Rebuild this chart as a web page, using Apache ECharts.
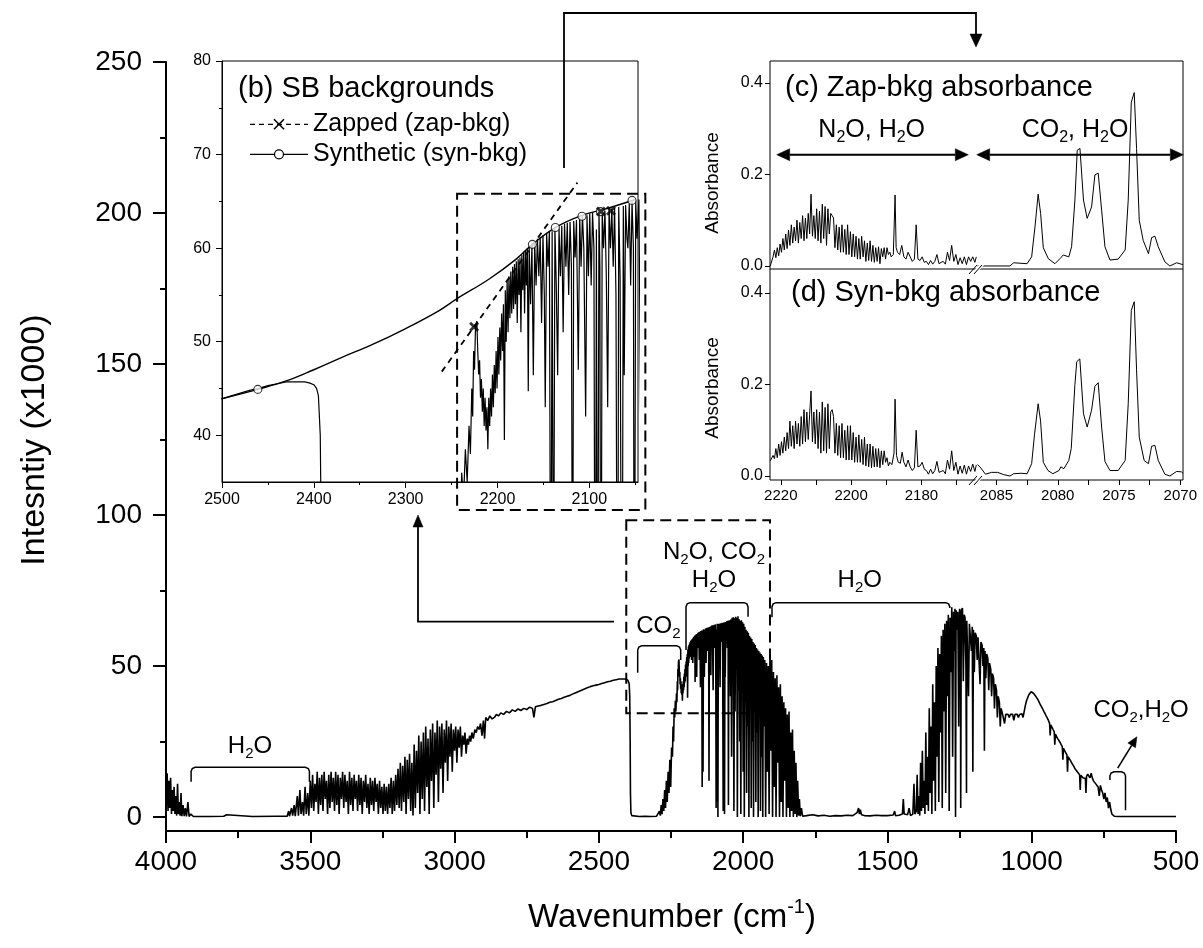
<!DOCTYPE html>
<html><head><meta charset="utf-8">
<script src="https://cdn.jsdelivr.net/npm/echarts@6/dist/echarts.min.js"></script>
<style>html,body{margin:0;padding:0;background:#fff}#c{width:1203px;height:948px}</style>
</head><body><div id="c"></div>
<script>
// ---------- DATA ----------
// Main single-beam spectrum, [wavenumber cm-1, intensity x1000]
const specA = [[4000,13],[3998,4],[3996,14.5],[3993,2],[3990,12],[3987,3],[3984,13],[3981,1],[3978,9],[3975,2],[3972,10],[3969,1],[3966,7],[3963,0.5],[3960,11],[3957,1],[3954,5],[3951,0.5],[3948,8],[3945,0.3],[3941,4],[3937,0.3],[3933,3],[3929,0.2],[3924,5],[3920,0.2],[3914,1],[3905,0.2],[3850,0.2],[3800,0.3],[3790,0.8],[3785,0.3],[3700,0.2],[3620,0.3],[3580,0.3],[3575,2],[3572,0.3],[3565,3],[3561,0.5],[3556,4],[3552,0.3],[3545,7],[3541,0.5],[3536,9],[3532,1],[3527,5],[3523,0.5],[3518,10],[3514,1],[3509,8],[3505,0.5],[3500,12]];
const specB = [[3496,3],[3492,14],[3488,2],[3484,11],[3480,5],[3476,15],[3472,1],[3468,13],[3464,4],[3460,14],[3456,2],[3452,15],[3448,6],[3444,12],[3440,1],[3436,14],[3432,3],[3428,15],[3424,5],[3420,13],[3416,2],[3412,15],[3408,4],[3404,14],[3400,1],[3396,13],[3392,6],[3388,15],[3384,3],[3380,14],[3376,5],[3372,12],[3368,1],[3364,15],[3360,4],[3356,13],[3352,2],[3348,14],[3344,6],[3340,12],[3336,2],[3332,14],[3328,4],[3324,13],[3320,1],[3316,12],[3312,5],[3308,14],[3304,3],[3300,11],[3296,1],[3292,13],[3288,4],[3284,12],[3280,2],[3276,13],[3272,5],[3268,11],[3264,1],[3260,12],[3256,3],[3252,10],[3248,1],[3244,11],[3240,2],[3236,10],[3232,1],[3228,11],[3224,3],[3220,13],[3216,1],[3212,12],[3208,2],[3204,14],[3200,4]];
const specC = [[3196,16],[3192,3],[3188,18],[3184,2],[3180,17],[3176,5],[3172,20],[3168,1],[3164,19],[3160,6],[3156,21],[3152,2],[3148,18],[3144,0.5],[3140,24],[3136,3],[3132,22],[3128,8],[3124,27],[3120,1],[3116,25],[3112,6],[3108,28],[3104,2],[3100,30],[3096,10],[3092,26],[3088,1],[3084,29],[3080,12],[3076,31],[3072,3],[3068,28],[3064,14],[3060,32],[3056,5],[3052,30],[3048,16],[3044,31],[3040,8],[3036,29],[3032,18],[3028,32],[3024,12],[3020,30],[3016,20],[3012,31],[3008,15],[3004,29],[3000,22],[2996,30],[2992,18],[2988,29],[2984,23],[2980,30],[2976,20],[2972,27],[2968,24],[2964,28],[2960,21],[2956,26],[2952,24],[2948,27],[2944,25],[2940,28],[2935,26],[2930,29],[2925,28],[2920,30],[2915,29],[2910,31],[2905,27],[2900,32],[2896,26],[2892,33],[2885,32],[2878,33.5],[2870,32.5],[2862,33],[2855,34],[2848,33.5],[2840,34.5],[2830,34],[2820,35],[2810,34.5],[2800,35.5],[2790,35],[2780,35.8],[2770,35.3],[2760,36],[2750,35.6],[2740,36.4],[2730,36],[2725,33],[2720,36.5],[2710,36.8],[2700,37],[2690,37.3],[2680,37.6],[2670,38],[2660,38.2],[2650,38.6],[2640,39],[2630,39.3],[2620,39.7],[2610,40],[2600,40.3],[2590,40.8],[2580,41.2],[2570,41.6],[2560,42],[2550,42.4],[2540,42.8],[2530,43.2],[2520,43.5],[2510,43.7],[2500,43.9],[2490,44.2],[2480,44.5],[2470,44.8],[2460,45.0],[2450,45.3],[2440,45.5],[2430,45.7],[2420,45.7],[2410,45.7],[2405,45.6],[2400,45.4],[2397,45.0],[2395,44.2],[2393,40],[2391.5,25],[2390.5,8],[2389,1.5],[2386,0.5],[2380,0.3],[2360,0.2],[2340,0.3],[2320,0.2],[2300,0.3],[2294,0.8]];
const specD = [[2290,2],[2287,0.5],[2284,4],[2281,1],[2278,6],[2275,2],[2272,9],[2269,3],[2266,12],[2263,5],[2260,15],[2257,8],[2254,19],[2251,10],[2248,23],[2245,20],[2243,30],[2241,25],[2239,36],[2237,33],[2235,38.5],[2233,35],[2231,41],[2229.5,38],[2228,45],[2227,42],[2226,49],[2225,47],[2224,51.5],[2222.5,52.2],[2221.5,49],[2220.5,46.5],[2219.5,48],[2218.5,44],[2217.5,46],[2216.5,42.5],[2215.5,45],[2214.5,41],[2213.5,44],[2212.5,40.5],[2211.5,43],[2210.5,38.5],[2209.5,44],[2208.5,41],[2207.5,45],[2206.5,42],[2205.5,46.5],[2204.5,43],[2203.5,47.5],[2202.5,44.5],[2201.5,49],[2200.5,45],[2199.5,50.5],[2198.5,46.5],[2197.5,51.5],[2196.5,48],[2195.5,53],[2194.5,49],[2193.5,54],[2192.5,39.5],[2191.5,55.5],[2190.5,50],[2189.5,56.5],[2188.5,51],[2187.5,57],[2186.5,52.5],[2185.5,57.5],[2184.5,53],[2183.5,58],[2182.5,53.5],[2181.5,58.3],[2180.5,54],[2179.5,58.6],[2178.5,52],[2177.5,58.8],[2176.5,55],[2175.5,59],[2174.5,51],[2173.5,59.3],[2172.5,55.5],[2171.5,59.6],[2170.5,53],[2169.5,59.8],[2168.5,56],[2167.5,60],[2166.5,44.7],[2165.5,60.2],[2164,54],[2162.5,60.5],[2161,46.4],[2159.5,60.6],[2158,56],[2156.5,61],[2155,57],[2153.5,61.2],[2152,52],[2150.5,61.4],[2149,55],[2148,43],[2146.5,61.6],[2145,58],[2143.5,61.8],[2142,10],[2140.5,61.8],[2139,15],[2137.5,62.2],[2136,56],[2134.5,46.4],[2133,62.1],[2131.5,57],[2130,62.4],[2128.5,51],[2127,62.6],[2125.5,58],[2124,62.7],[2122.5,55],[2121,62.8],[2119.5,58],[2118.3,12],[2117,62.9],[2115.5,59],[2114,63],[2112,47],[2110.5,63.3],[2109,58],[2107.5,63.5],[2106,60],[2104,42],[2102.5,63.5],[2101,57],[2099.5,63.7],[2098,56],[2096.5,63.8],[2095,60],[2093.6,3],[2092.3,62],[2091,5],[2089.5,64],[2088.5,58],[2087.4,0],[2086,63.9],[2084.5,60],[2083,64],[2081.5,57],[2080,43],[2078.5,64.2],[2077,60],[2075.5,64.2],[2074,58],[2072.5,64.3],[2071,55],[2069.2,2],[2068,64.4],[2066.5,57],[2064.5,1],[2063,64.5],[2062,46.4],[2060.5,64.6],[2059,61],[2058,60],[2056.5,64.8],[2055,56],[2053.5,65],[2052,60],[2051,4],[2049.5,65.1],[2048,61],[2046,65.2]];
const specE = [[2044,40],[2042,65.5],[2040,20],[2038,66],[2036,45],[2034,66.2],[2032,2],[2030,65.8],[2028,35],[2026,66.3],[2024,50],[2022,66],[2020,0],[2018,66.5],[2016,42],[2014,65.5],[2012,25],[2010,65],[2008,1],[2006,65.2],[2004,48],[2002,64.5],[2000,15],[1998,64],[1996,0],[1994,63],[1992,38],[1990,62],[1988,8],[1986,61.5],[1984,30],[1982,61],[1980,0],[1978,60],[1976,44],[1974,59.5],[1972,3],[1970,59],[1968,25],[1966,58],[1964,0],[1962,57.5],[1960,35],[1958,57],[1956,5],[1954,56],[1952,28],[1950,55.5],[1948,0],[1946,55],[1944,40],[1942,54.5],[1940,2],[1938,54],[1936,20],[1934,53.5],[1932,0],[1930,53],[1928,30],[1925,52],[1922,0],[1919,51],[1916,15],[1913,50],[1910,1],[1907,54],[1904,22],[1901,52],[1898,0],[1895,48],[1892,10],[1889,46],[1886,0],[1883,47],[1880,18],[1877,43],[1874,0],[1871,44],[1868,5],[1865,40],[1862,0],[1859,38],[1856,12],[1853,36],[1850,0],[1847,34],[1844,3],[1841,35],[1838,0],[1835,28],[1832,2],[1829,29],[1826,0],[1823,22],[1820,1],[1817,18],[1814,0],[1811,12],[1808,0.5],[1805,6],[1802,0.3],[1798,3],[1794,0.3],[1790,0.5]];
const specF = [[1780,0.5],[1760,0.8],[1740,0.4],[1720,0.6],[1700,0.3],[1680,0.5],[1660,0.4],[1640,0.6],[1620,0.5],[1605,1.5],[1600,3],[1597,1],[1594,2.5],[1590,0.8],[1580,0.5],[1560,0.4],[1540,0.6],[1520,0.5],[1500,0.5],[1480,0.7],[1475,2],[1472,0.5],[1460,0.6],[1448,1],[1445,6],[1442,1],[1430,0.8],[1425,3],[1420,0.5],[1412,1],[1408,11],[1405,1],[1400,2]];
const specG = [[1397,14],[1394,1],[1391,7],[1388,0.5],[1385,18],[1382,2],[1379,22],[1376,3],[1373,12],[1370,1],[1367,28],[1364,4],[1361,20],[1358,2],[1355,36],[1352,8],[1349,30],[1346,1],[1343,44],[1340,12],[1337,38],[1334,2],[1331,50],[1328,20],[1325,56],[1322,5],[1319,54],[1316,28],[1313,60],[1310,3],[1307,62],[1304,35],[1301,64],[1298,8],[1295,65],[1292,40],[1289,67],[1286,2],[1283,66],[1280,48],[1277,69.5],[1274,20],[1271,68],[1268,55],[1266,69],[1264,0],[1262,68.5],[1259,62],[1256,68],[1253,30],[1250,69],[1247,58],[1246,3],[1244,68.5],[1240,69.2],[1237,45],[1234,67],[1231,66],[1228,50],[1226,8],[1225,65],[1222,64.5],[1219,40],[1216,64],[1212,63.5],[1209,55],[1206,63],[1204,15],[1202,62],[1199,48],[1196,61],[1192,60],[1189,52],[1186,59.5],[1182,59],[1179,44],[1176,58],[1172,57],[1169,50],[1166,56],[1164,22],[1162,55],[1159,46],[1156,54],[1152,52.5],[1149,42],[1146,51],[1142,49],[1139,40],[1136,47.5],[1132,46],[1129,36],[1126,44],[1122,42],[1119,33],[1116,40],[1112,38],[1109,30],[1106,36],[1102,34.5],[1098,34],[1094,31],[1090,34],[1086,33.5],[1082,34],[1078,33],[1074,34],[1070,33.5],[1066,34],[1062,32],[1058,34],[1054,33.5],[1050,34],[1046,33],[1042,34],[1038,33.8],[1034,34.2],[1030,33],[1026,35],[1022,37],[1018,38.5],[1014,39.5],[1010,40.5],[1006,41],[1002,41.5],[998,41.5],[994,41],[990,40.5],[986,40],[982,39.5],[978,38.8],[974,38],[970,37.2],[966,36.5],[962,35.8],[958,35],[954,34.3],[950,33.5],[946,32.8],[942,32],[938,31],[936,27],[934,30.5],[930,29.8],[926,29],[922,28.3],[920,24],[918,27.5],[914,26.7],[910,26],[906,25.5],[902,24.8],[898,24],[894,23.3],[892,19],[890,22.8],[886,22],[882,21.3],[878,20.6],[876,15],[874,20],[870,19.5],[866,18.8],[862,18],[858,17.5],[854,16.8],[850,16],[846,15.5],[842,15],[838,14.5],[834,14],[832,9],[830,13.8],[826,13.4],[822,13],[818,12.5],[814,12.8],[812,8],[810,13.5],[806,14.2],[802,14],[798,13],[794,14.5],[790,13],[786,12],[782,12.5],[778,11],[774,11.5],[770,10],[766,7],[762,10.5],[758,9],[754,8],[750,6],[746,8],[742,5],[738,6.5],[734,3],[730,5],[726,2.5],[722,1],[718,0.5],[714,0.3],[700,0.2],[600,0.2],[500,0.2]];
const spectrum = [].concat(specA, specB, specC, specD, specE, specF, specG);

// Inset (b): backgrounds
const synBkg = [[2500,43.9],[2461,44.9],[2430,45.8],[2400,47.0],[2370,48.3],[2336,49.7],[2300,51.4],[2264,53.3],[2244,54.6],[2209,56.7],[2180,58.8],[2162,60.4],[2137,62.2],[2108,63.5],[2082,64.2],[2050,65.2]];
const synMarks = [[2461,44.9],[2162,60.4],[2137,62.2],[2108,63.4],[2088,63.9],[2053.5,65.1]];
const zapLine = [[2260.7,46.8],[2225.5,51.6],[2113,67]];
const zapMarks = [[2225.5,51.6],[2087.4,63.9],[2076.4,64.0]];

// (c) zap-bkg absorbance and (d) syn-bkg absorbance, left (N2O) and right (CO2) segments
const zapAbsL = [[2223.0,0.0],[2222.6,0.003],[2222.2,0.02],[2221.8,0.035],[2221.4,0.018],[2221.0,0.04],[2220.6,0.022],[2220.2,0.048],[2219.8,0.03],[2219.4,0.06],[2219.0,0.035],[2218.6,0.07],[2218.2,0.038],[2217.8,0.078],[2217.4,0.045],[2217.0,0.09],[2216.6,0.05],[2216.2,0.085],[2215.8,0.055],[2215.4,0.1],[2215.0,0.05],[2214.6,0.095],[2214.2,0.06],[2213.8,0.11],[2213.4,0.055],[2213.0,0.105],[2212.6,0.06],[2212.2,0.115],[2211.8,0.07],[2211.4,0.157],[2211.0,0.065],[2210.6,0.11],[2210.2,0.06],[2209.8,0.125],[2209.4,0.055],[2209.0,0.12],[2208.6,0.05],[2208.2,0.135],[2207.8,0.06],[2207.4,0.13],[2207.0,0.045],[2206.6,0.125],[2206.2,0.07],[2205.8,0.115],[2205.4,0.11],[2205.0,0.105],[2204.6,0.04],[2204.2,0.09],[2203.8,0.035],[2203.4,0.085],[2203.0,0.03],[2202.6,0.09],[2202.2,0.03],[2201.8,0.08],[2201.4,0.025],[2201.0,0.09],[2200.6,0.025],[2200.2,0.075],[2199.8,0.02],[2199.4,0.07],[2199.0,0.02],[2198.6,0.065],[2198.2,0.015],[2197.8,0.06],[2197.4,0.015],[2197.0,0.065],[2196.6,0.02],[2196.2,0.055],[2195.8,0.01],[2195.4,0.05],[2195.0,0.012],[2194.6,0.055],[2194.2,0.01],[2193.8,0.045],[2193.4,0.008],[2193.0,0.04],[2192.6,0.01],[2192.2,0.042],[2191.8,0.005],[2191.4,0.038],[2191.0,0.02],[2190.6,0.04],[2190.2,0.015],[2189.8,0.04],[2189.4,0.025],[2189.0,0.03],[2188.6,0.02],[2188.0,0.025],[2187.5,0.155],[2187.2,0.04],[2186.8,0.03],[2186.2,0.025],[2185.6,0.045],[2185.0,0.02],[2184.4,0.015],[2183.8,0.03],[2183.2,0.02],[2182.6,0.01],[2182.0,0.015],[2181.5,0.09],[2181.0,0.015],[2180.4,0.012],[2179.8,0.02],[2179.2,0.008],[2178.6,0.01],[2178.0,0.003],[2177.4,0.012],[2176.8,0.004],[2176.2,0.01],[2175.6,0.025],[2175.0,0.005],[2174.4,0.008],[2173.8,0.01],[2173.2,0.004],[2172.6,0.03],[2172.0,0.012],[2171.4,0.045],[2170.8,0.01],[2170.2,0.025],[2169.6,0.003],[2169.0,0.018],[2168.4,0.005],[2167.8,0.02],[2167.2,0.003],[2166.6,0.02],[2166.0,0.01],[2165.4,0.02],[2164.8,0.008],[2164.4,0.02]];
const zapAbsR = [[2086.55,0.0],[2083.9,0.0],[2083.6,0.007],[2082.5,0.005],[2082.13,0.02],[2081.86,0.085],[2081.6,0.157],[2081.4,0.115],[2081.18,0.04],[2080.77,0.016],[2080.23,0.005],[2079.82,0.016],[2079.55,0.024],[2079.1,0.02],[2078.87,0.042],[2078.6,0.144],[2078.41,0.253],[2078.19,0.257],[2077.9,0.144],[2077.6,0.104],[2077.24,0.129],[2076.97,0.199],[2076.7,0.203],[2076.42,0.122],[2076.15,0.042],[2075.74,0.013],[2075.07,0.015],[2074.5,0.035],[2074.25,0.144],[2074.0,0.358],[2073.76,0.379],[2073.57,0.257],[2073.35,0.1],[2073.03,0.056],[2072.6,0.027],[2072.34,0.062],[2072.07,0.065],[2071.8,0.042],[2071.26,0.009],[2070.85,0.0],[2070.3,0.007],[2069.8,0.003]];
const synAbsL = [[2223.0,0.033],[2222.6,0.034],[2222.2,0.045],[2221.8,0.038],[2221.4,0.06],[2221.0,0.04],[2220.6,0.07],[2220.2,0.045],[2219.8,0.075],[2219.4,0.05],[2219.0,0.085],[2218.6,0.055],[2218.2,0.095],[2217.8,0.06],[2217.4,0.12],[2217.0,0.065],[2216.6,0.11],[2216.2,0.06],[2215.8,0.12],[2215.4,0.07],[2215.0,0.115],[2214.6,0.065],[2214.2,0.13],[2213.8,0.07],[2213.4,0.145],[2213.0,0.075],[2212.6,0.14],[2212.2,0.08],[2211.8,0.135],[2211.4,0.186],[2211.0,0.075],[2210.6,0.14],[2210.2,0.07],[2209.8,0.145],[2209.4,0.06],[2209.0,0.14],[2208.6,0.05],[2208.2,0.162],[2207.8,0.055],[2207.4,0.15],[2207.0,0.05],[2206.6,0.158],[2206.2,0.06],[2205.8,0.14],[2205.4,0.145],[2205.0,0.13],[2204.6,0.05],[2204.2,0.115],[2203.8,0.045],[2203.4,0.11],[2203.0,0.04],[2202.6,0.115],[2202.2,0.04],[2201.8,0.1],[2201.4,0.035],[2201.0,0.11],[2200.6,0.035],[2200.2,0.11],[2199.8,0.035],[2199.4,0.095],[2199.0,0.03],[2198.6,0.085],[2198.2,0.03],[2197.8,0.09],[2197.4,0.03],[2197.0,0.08],[2196.6,0.025],[2196.2,0.085],[2195.8,0.022],[2195.4,0.07],[2195.0,0.02],[2194.6,0.07],[2194.2,0.018],[2193.8,0.065],[2193.4,0.02],[2193.0,0.06],[2192.6,0.02],[2192.2,0.06],[2191.8,0.018],[2191.4,0.055],[2191.0,0.025],[2190.6,0.055],[2190.2,0.03],[2189.8,0.04],[2189.4,0.022],[2189.0,0.03],[2188.4,0.025],[2187.8,0.05],[2187.5,0.168],[2187.1,0.045],[2186.6,0.03],[2186.0,0.028],[2185.5,0.052],[2185.0,0.03],[2184.4,0.02],[2183.8,0.035],[2183.2,0.02],[2182.6,0.012],[2182.0,0.018],[2181.5,0.1],[2181.0,0.02],[2180.4,0.022],[2179.8,0.03],[2179.2,0.015],[2178.6,0.012],[2178.0,0.004],[2177.4,0.015],[2176.8,0.005],[2176.2,0.012],[2175.6,0.032],[2175.0,0.008],[2174.4,0.01],[2173.8,0.012],[2173.2,0.005],[2172.6,0.035],[2172.0,0.015],[2171.4,0.055],[2170.8,0.012],[2170.2,0.03],[2169.6,0.004],[2169.0,0.022],[2168.4,0.006],[2167.8,0.024],[2167.2,0.004],[2166.6,0.022],[2166.0,0.01],[2165.4,0.026],[2164.8,0.01],[2164.4,0.024]];
const synAbsR = [[2086.55,0.025],[2086.35,0.02],[2085.9,0.004],[2085.4,0.008],[2084.9,0.008],[2084.4,0.003],[2083.9,0.0],[2083.6,0.005],[2083.0,0.006],[2082.5,0.005],[2082.13,0.027],[2081.9,0.09],[2081.6,0.158],[2081.4,0.12],[2081.18,0.03],[2080.8,0.012],[2080.4,0.005],[2079.9,0.012],[2079.75,0.02],[2079.5,0.016],[2079.1,0.034],[2078.9,0.06],[2078.6,0.2],[2078.45,0.25],[2078.2,0.256],[2077.9,0.136],[2077.6,0.107],[2077.24,0.144],[2076.97,0.196],[2076.7,0.204],[2076.42,0.107],[2076.15,0.032],[2075.74,0.012],[2075.07,0.012],[2074.5,0.034],[2074.25,0.158],[2074.0,0.362],[2073.76,0.381],[2073.57,0.232],[2073.35,0.085],[2072.95,0.034],[2072.6,0.027],[2072.34,0.065],[2072.07,0.067],[2071.8,0.034],[2071.26,0.004],[2070.85,0.0],[2070.3,0.01],[2069.9,0.009],[2069.78,0.006]];

// Tick values
const mainYTicks = [0,50,100,150,200,250];
const mainYMinor = [25,75,125,175,225];
const bXTicks = [2500,2400,2300,2200,2100];
const bXMinor = [2450,2350,2250,2150,2050];
const bYTicks = [40,50,60,70,80];
const bYMinor = [45,55,65,75];
const absYTicks = [0,0.2,0.4];
const leftXTicks = [2220,2200,2180];
const leftXMinor = [2210,2190,2170];
const rightXTicks = [2085,2080,2075,2070];
const rightXMinor = [2082.5,2077.5,2072.5];

// ---------- CHART ----------
const K = '#000';
const FONT = '"Liberation Sans", Arial, Helvetica, sans-serif';
const chart = echarts.init(document.getElementById('c'));
const plain = v => String(v);

function xAx(grid, min, max, o) {
  return Object.assign({gridIndex: grid, type: 'value', position: 'bottom', min: min, max: max, inverse: true,
    splitLine: {show: false},
    axisLine: {show: false, onZero: false, lineStyle: {color: K, width: 1}},
    axisTick: {show: false}, axisLabel: {show: false}}, o || {});
}
function yAx(grid, min, max, o) {
  return Object.assign({gridIndex: grid, type: 'value', position: 'left', min: min, max: max,
    splitLine: {show: false},
    axisLine: {show: false, onZero: false, lineStyle: {color: K, width: 1}},
    axisTick: {show: false}, axisLabel: {show: false}}, o || {});
}
const lbl = (size, extra) => Object.assign({show: true, color: K, fontSize: size, fontFamily: FONT, formatter: plain}, extra || {});

const option = {
  animation: false,
  backgroundColor: '#fff',
  grid: [
    {left: 166, top: 62, width: 1010, height: 769, show: false},
    {left: 222, top: 61, width: 416, height: 421, show: true, backgroundColor: '#fff', borderColor: K, borderWidth: 1},
    {left: 770, top: 61, width: 207, height: 208, show: false},
    {left: 977, top: 61, width: 206, height: 208, show: false},
    {left: 770, top: 269, width: 207, height: 211, show: false},
    {left: 977, top: 269, width: 206, height: 211, show: false}
  ],
  xAxis: [
    {gridIndex: 0, type: 'value', position: 'bottom', min: 500, max: 4000, inverse: true, interval: 500,
      splitLine: {show: false},
      axisLine: {show: true, onZero: false, lineStyle: {color: K, width: 2}},
      axisTick: {show: true, length: 12, lineStyle: {color: K, width: 2}},
      minorTick: {show: true, splitNumber: 2, length: 7, lineStyle: {color: K, width: 2}},
      axisLabel: lbl(28, {margin: 17, showMinLabel: true, showMaxLabel: true})},
    xAx(1, 2047, 2500, {axisLine: {show: true, onZero: false, lineStyle: {color: K, width: 1}},
      axisTick: {show: true, length: 6, customValues: bXTicks, lineStyle: {color: K}},
      axisLabel: lbl(16, {margin: 10, customValues: bXTicks})}),
    xAx(1, 2047, 2500, {axisTick: {show: true, length: 3, customValues: bXMinor, lineStyle: {color: K}}}),
    xAx(2, 2164.2, 2223.07),
    xAx(3, 2069.78, 2086.59),
    xAx(4, 2164.2, 2223.07, {axisTick: {show: true, length: 5, customValues: leftXTicks.concat(leftXMinor), lineStyle: {color: K}},
      axisLabel: lbl(15, {margin: 8, customValues: leftXTicks})}),
    xAx(5, 2069.78, 2086.59, {axisTick: {show: true, length: 5, customValues: rightXTicks.concat(rightXMinor), lineStyle: {color: K}},
      axisLabel: lbl(15, {margin: 8, customValues: rightXTicks})})
  ],
  yAxis: [
    yAx(0, -4.6, 250, {axisLine: {show: true, onZero: false, lineStyle: {color: K, width: 2}},
      axisTick: {show: true, length: 13, customValues: mainYTicks, lineStyle: {color: K, width: 2}},
      axisLabel: lbl(28, {margin: 24, customValues: mainYTicks})}),
    yAx(0, -4.6, 250, {axisTick: {show: true, length: 6, customValues: mainYMinor, lineStyle: {color: K, width: 2}}}),
    yAx(1, 35, 80, {axisLine: {show: true, onZero: false, lineStyle: {color: K, width: 1}},
      axisTick: {show: true, length: 6, customValues: bYTicks, lineStyle: {color: K}},
      axisLabel: lbl(16, {margin: 11, customValues: bYTicks})}),
    yAx(1, 35, 80, {axisTick: {show: true, length: 3, customValues: bYMinor, lineStyle: {color: K}}}),
    yAx(2, -0.0066, 0.448, {axisTick: {show: true, length: 5, customValues: absYTicks, lineStyle: {color: K}},
      axisLabel: lbl(16, {margin: 7, customValues: absYTicks, formatter: v => v.toFixed(1)})}),
    yAx(3, -0.0066, 0.448),
    yAx(4, -0.0087, 0.4525, {axisTick: {show: true, length: 5, customValues: absYTicks, lineStyle: {color: K}},
      axisLabel: lbl(16, {margin: 7, customValues: absYTicks, formatter: v => v.toFixed(1)})}),
    yAx(5, -0.0087, 0.4525)
  ],
  series: [
    {type: 'line', xAxisIndex: 0, yAxisIndex: 0, data: spectrum, symbol: 'none', lineStyle: {color: K, width: 1.6}, silent: true},
    {type: 'line', xAxisIndex: 1, yAxisIndex: 2, data: spectrum, symbol: 'none', clip: true, lineStyle: {color: K, width: 1.2}, silent: true},
    {type: 'line', xAxisIndex: 1, yAxisIndex: 2, data: synBkg, smooth: 0.4, symbol: 'none', lineStyle: {color: K, width: 1.4}, silent: true},
    {type: 'line', xAxisIndex: 1, yAxisIndex: 2, data: zapLine, symbol: 'none', clip: false, lineStyle: {color: K, width: 1.8, type: [6, 5]}, silent: true},
    {type: 'scatter', xAxisIndex: 1, yAxisIndex: 2, data: synMarks, symbol: 'circle', symbolSize: 8, itemStyle: {color: '#fff', borderColor: K, borderWidth: 1.1}, silent: true, z: 4},
    {type: 'scatter', xAxisIndex: 1, yAxisIndex: 2, data: zapMarks, symbol: 'path://M2,0 L5,3 L8,0 L10,2 L7,5 L10,8 L8,10 L5,7 L2,10 L0,8 L3,5 L0,2 Z', symbolSize: 10, itemStyle: {color: K}, silent: true, z: 4},
    {type: 'line', xAxisIndex: 3, yAxisIndex: 4, data: zapAbsL, symbol: 'none', lineStyle: {color: K, width: 1}, silent: true},
    {type: 'line', xAxisIndex: 4, yAxisIndex: 5, data: zapAbsR, symbol: 'none', lineStyle: {color: K, width: 1}, silent: true},
    {type: 'line', xAxisIndex: 5, yAxisIndex: 6, data: synAbsL, symbol: 'none', lineStyle: {color: K, width: 1}, silent: true},
    {type: 'line', xAxisIndex: 6, yAxisIndex: 7, data: synAbsR, symbol: 'none', lineStyle: {color: K, width: 1}, silent: true}
  ]
};
chart.setOption(option);

// ---------- ANNOTATIONS ----------
const P = (x, y) => chart.convertToPixel({seriesIndex: 0}, [x, y]);
const Pb = (x, y) => chart.convertToPixel({seriesIndex: 1}, [x, y]);
const G = [];
const Z = 100;
function line(pts, w, dash) {
  G.push({type: 'polyline', z: Z, shape: {points: pts}, style: {stroke: K, fill: null, lineWidth: w || 1.5, lineDash: dash || null}});
}
function seg(x1, y1, x2, y2, w) {
  G.push({type: 'line', z: Z, shape: {x1: x1, y1: y1, x2: x2, y2: y2}, style: {stroke: K, lineWidth: w || 1.5}});
}
function head(tip, from, len, hw) {
  const a = Math.atan2(tip[1] - from[1], tip[0] - from[0]);
  const bx = tip[0] - len * Math.cos(a), by = tip[1] - len * Math.sin(a);
  const px = -Math.sin(a) * hw, py = Math.cos(a) * hw;
  G.push({type: 'polygon', z: Z, shape: {points: [tip, [bx + px, by + py], [bx - px, by - py]]}, style: {fill: K, stroke: K, lineWidth: 0.5}});
  return [bx, by];
}
function txt(x, y, text, size, opts) {
  const sub = Math.round(size * 0.62);
  G.push(Object.assign({type: 'text', z: Z, x: x, y: y, style: {
    text: text, fill: K, fontSize: size, fontFamily: FONT,
    align: (opts && opts.align) || 'center', textAlign: (opts && opts.align) || 'center',
    verticalAlign: 'middle', textVerticalAlign: 'middle',
    rich: {
      n: {fontSize: size, fontFamily: FONT, fill: K, color: K, lineHeight: size * 1.25, verticalAlign: 'middle'},
      s: {fontSize: sub, fontFamily: FONT, fill: K, color: K, lineHeight: sub, verticalAlign: 'bottom'},
      u: {fontSize: sub, fontFamily: FONT, fill: K, color: K, lineHeight: sub, verticalAlign: 'top'}
    }}}, (opts && opts.el) || {}));
}
function bracket(x1, x2, yTop, yL, yR) {
  const a = P(x1, yL), b = P(x1, yTop), c = P(x2, yTop), d = P(x2, yR);
  const r = 4;
  line([a, [b[0], b[1] + r], [b[0] + 1.2, b[1] + 1.2], [b[0] + r, b[1]], [c[0] - r, c[1]], [c[0] - 1.2, c[1] + 1.2], [c[0], c[1] + r], d], 1.5);
}
function dashedRect(a, b) {
  G.push({type: 'rect', z: Z, shape: {x: a[0], y: a[1], width: b[0] - a[0], height: b[1] - a[1]}, style: {fill: null, stroke: K, lineWidth: 2, lineDash: [11, 6]}});
}

// dashed rectangles
dashedRect(P(2405, 98.3), P(1907, 34.4));
dashedRect(Pb(2244, 65.8), Pb(2039, 32.0));
// connector main -> inset
(function () {
  const base = head([418, 515], [418, 600], 12, 5);
  line([[614, 621.7], [418, 621.7], [418, base[1]]], 1.8);
})();
// connector inset -> (c)
(function () {
  const base = head([976, 47], [976, 20], 13, 6);
  line([[564, 168], [564, 13], [976, 13], [976, base[1]]], 1.8);
})();

// brackets with labels (main)
bracket(3913, 3503, 16.5, 11.7, 11.7);
txt(P(3709, 0)[0], P(0, 23.3)[1], '{n|H}{s|2}{n|O}', 24);
bracket(2365.4, 2216.4, 56.7, 47.8, 52);
txt(P(2293.7, 0)[0], P(0, 63)[1], '{n|CO}{s|2}', 24);
bracket(2198, 1983, 71, 55.3, 66.3);
txt(P(2101, 0)[0], P(0, 87.8)[1], '{n|N}{s|2}{n|O, CO}{s|2}', 24);
txt(P(2101, 0)[0], P(0, 78.5)[1], '{n|H}{s|2}{n|O}', 24);
bracket(1900, 1284, 71, 66.2, 69.2);
txt(P(1596, 0)[0], P(0, 78.5)[1], '{n|H}{s|2}{n|O}', 24);
bracket(729, 675, 15, 12.3, 2.3);
(function () {
  const from = P(702, 16.2), tip = P(635.5, 26.6);
  const base = head(tip, from, 10, 4.5);
  line([from, base], 1.6);
})();
txt(P(621, 0)[0], P(0, 35.4)[1], '{n|CO}{s|2}{n|,H}{s|2}{n|O}', 24);

// axis titles
txt(672, 918, '{n|Wavenumber (cm}{u|-1}{n|)}', 33);
txt(35, 440, '{n|Intesntiy (x1000)}', 34, {el: {rotation: Math.PI / 2}});
txt(713, 183, '{n|Absorbance}', 19, {el: {rotation: Math.PI / 2}});
txt(713, 388, '{n|Absorbance}', 19, {el: {rotation: Math.PI / 2}});

// inset (b) title & legend
txt(238, 89, '{n|(b) SB backgrounds}', 29, {align: 'left'});
line([[250, 124.3], [308, 124.3]], 1.2, [5, 4]);
seg(274, 119.3, 284, 129.3, 1.6);
seg(284, 119.3, 274, 129.3, 1.6);
txt(313, 124.3, '{n|Zapped (zap-bkg)}', 25, {align: 'left'});
line([[250, 154.3], [308, 154.3]], 1.2);
G.push({type: 'circle', z: Z, shape: {cx: 279, cy: 154.3, r: 4.5}, style: {fill: '#fff', stroke: K, lineWidth: 1.2}});
txt(313, 154.3, '{n|Synthetic (syn-bkg)}', 25, {align: 'left'});

// (c),(d) panel frame
G.push({type: 'rect', z: Z, shape: {x: 770, y: 61, width: 413, height: 419}, style: {fill: null, stroke: K, lineWidth: 1}});
seg(770, 269, 1183, 269, 1);
// axis breaks
[269, 480].forEach(function (yb) {
  G.push({type: 'polygon', z: Z + 1, shape: {points: [[971, yb + 5], [976, yb + 5], [984, yb - 4], [979, yb - 4]]}, style: {fill: '#fff'}});
  G.push({type: 'line', z: Z + 2, shape: {x1: 969, y1: yb + 5, x2: 977, y2: yb - 4}, style: {stroke: K, lineWidth: 1}});
  G.push({type: 'line', z: Z + 2, shape: {x1: 974, y1: yb + 5, x2: 982, y2: yb - 4}, style: {stroke: K, lineWidth: 1}});
});
// (c),(d) labels
txt(785, 88, '{n|(c) Zap-bkg absorbance}', 29, {align: 'left'});
txt(791, 293, '{n|(d) Syn-bkg absorbance}', 29, {align: 'left'});
txt(871.7, 130, '{n|N}{s|2}{n|O, H}{s|2}{n|O}', 25);
txt(1075, 130, '{n|CO}{s|2}{n|, H}{s|2}{n|O}', 25);
(function () {
  const y = 154.7;
  const a1 = head([776.7, y], [900, y], 13, 6), a2 = head([968.3, y], [800, y], 13, 6);
  line([a1, a2], 2);
  const b1 = head([976.7, y], [1100, y], 13, 6), b2 = head([1183.3, y], [1000, y], 13, 6);
  line([b1, b2], 2);
})();

chart.setOption({graphic: {elements: G}});
</script>
</body></html>
